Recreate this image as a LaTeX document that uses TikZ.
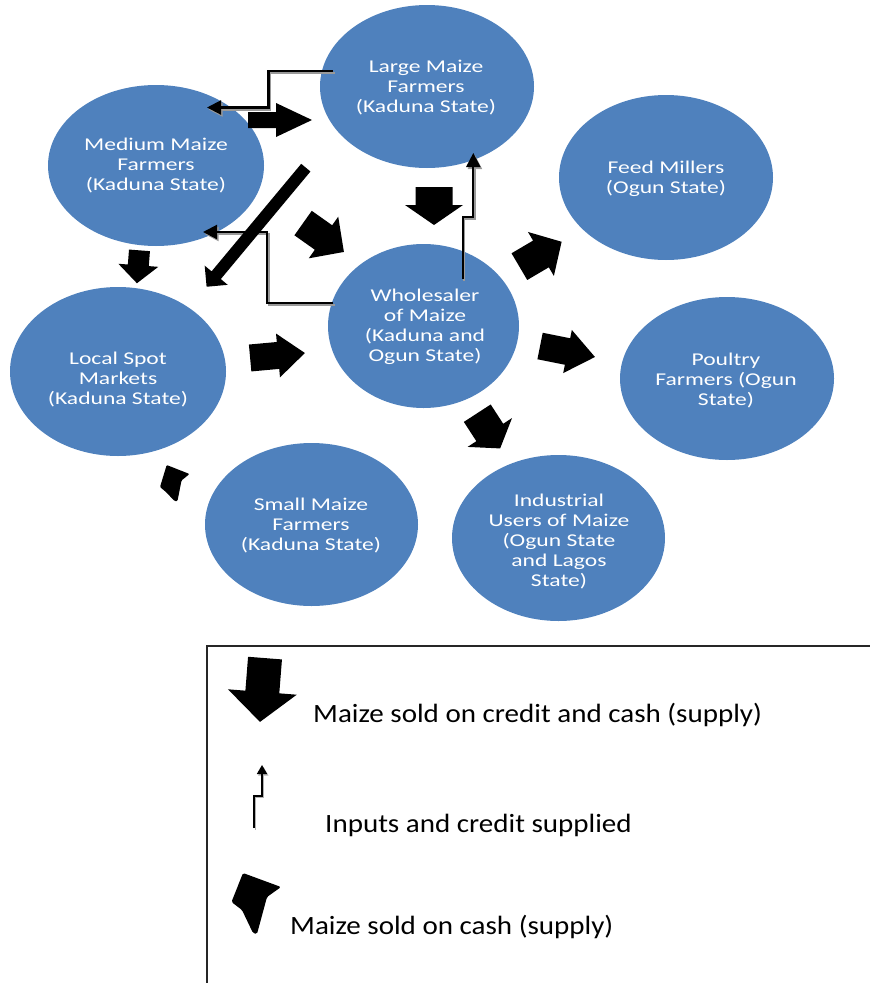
\documentclass[tikz,border=0pt]{standalone}
\usepackage{fontspec}
\setmainfont{Carlito}
\newfontfamily\efont[FakeStretch=1.31]{Carlito}
\newfontfamily\lfont[FakeStretch=1.1]{Carlito}
\usetikzlibrary{shapes.geometric,arrows.meta}
\definecolor{ellblue}{HTML}{4F81BD}
% name, x, y, angle, length, body width, head width, head length
\newcommand\blockarrow[8]{%
  \fill[blk, shift={(#2,#3)}, rotate=#4]
    (-#5/2,-#6/2) -- ({#5/2-#8},-#6/2) -- ({#5/2-#8},-#7/2) -- (#5/2,0) coordinate (#1)
    -- ({#5/2-#8},#7/2) -- ({#5/2-#8},#6/2) -- (-#5/2,#6/2) -- cycle;}
\begin{document}
\begin{tikzpicture}[x=1pt,y=-1pt,
  ell/.style={ellipse, fill=ellblue, draw=none, inner sep=0pt},
  etxt/.style={text=white, align=center, inner sep=0pt, font=\efont\fontsize{18}{20}\selectfont},
  ltxt/.style={anchor=base west, inner sep=0pt, font=\lfont\fontsize{26.4}{30}\selectfont},
  conn/.style={line width=2.1pt, -{Triangle[length=14pt,width=14pt]}},
  shad/.style={conn, draw=black!40, transform canvas={shift={(1.6,2)}}},
  lconn/.style={line width=1.6pt, -{Triangle[length=9pt,width=10pt]}},
  lshad/.style={lconn, draw=black!30, transform canvas={shift={(1.3,1.6)}}},
  blk/.style={fill=black}]
\useasboundingbox (0,0) rectangle (870,983);

% ellipses
\node[ell, minimum width=214pt, minimum height=163pt] (lg) at (427,86.5) {};
\node[ell, minimum width=216pt, minimum height=161pt] (md) at (156,165.5) {};
\node[ell, minimum width=214pt, minimum height=165pt] (fm) at (666,177.5) {};
\node[ell, minimum width=191pt, minimum height=164pt] (wh) at (423.5,326) {};
\node[ell, minimum width=216pt, minimum height=169pt] (ls) at (118,371.5) {};
\node[ell, minimum width=214pt, minimum height=163pt] (pf) at (727,378.5) {};
\node[ell, minimum width=213pt, minimum height=163pt] (sm) at (311.5,524.5) {};
\node[ell, minimum width=213pt, minimum height=166pt] (iu) at (558.5,538) {};

% ellipse texts
\node[etxt] (lgt) at (426,88) {Large Maize\\Farmers\\(Kaduna State)};
\node[etxt] (mdt) at (156,165) {Medium Maize\\Farmers\\(Kaduna State)};
\node[etxt] (fmt) at (666,179) {Feed Millers\\(Ogun State)};
\node[etxt] (wht) at (425,327) {Wholesaler\\of Maize\\(Kaduna and\\Ogun State)};
\node[etxt] (lst) at (118,379) {Local Spot\\Markets\\(Kaduna State)};
\node[etxt] (pft) at (726,380) {Poultry\\Farmers (Ogun\\State)};
\node[etxt] (smt) at (311,525) {Small Maize\\Farmers\\(Kaduna State)};
\node[etxt] (iut) at (559,541) {Industrial\\Users of Maize\\(Ogun State\\and Lagos\\State)};

% elbow connectors (inputs and credit)
\coordinate (e1a) at (333,71);   \coordinate (e1b) at (207,107.5);
\coordinate (e2a) at (333,303);  \coordinate (e2b) at (203,232);
\coordinate (e3a) at (462.7,279); \coordinate (e3b) at (473.3,153);
\draw[shad] (e1a) -| (268.5,107.5) -- (e1b);
\draw[conn] (e1a) -| (268.5,107.5) -- (e1b);
\draw[shad] (e2a) -| (267,232) -- (e2b);
\draw[conn] (e2a) -| (267,232) -- (e2b);
\draw[shad] (e3a) |- (473.3,217) -- (e3b);
\draw[conn] (e3a) |- (473.3,217) -- (e3b);

% block arrows (supply)
\blockarrow{a1}{280}{120}{0}{64}{16}{34}{36}
\blockarrow{a2}{256.2}{227.2}{-129.8}{155}{12}{30}{15}
\blockarrow{a3}{323.5}{237.5}{-35.3}{50}{30}{51}{25}
\blockarrow{a4}{434}{206}{-90}{38}{37}{58}{20}
\blockarrow{a8}{138.2}{266.8}{-94.4}{33}{21}{40}{18}
\blockarrow{a9}{277.5}{355.5}{5.2}{55}{27}{44}{27}
\blockarrow{a10}{540.5}{254.2}{30.5}{49}{31}{51}{24}
\blockarrow{a11}{567.5}{351.5}{-11.3}{56}{27}{44}{28}
\blockarrow{a12}{488.7}{430.8}{-57}{42}{32}{53}{19}

% cash arrow (small -> local)
\fill[blk, rounded corners=1pt] (166.7,465) -- (189.5,474) -- (181.5,480.5) -- (177.5,501)
  -- (174.5,501) -- (166,492) -- (160,487) -- cycle;

% legend
\draw[line width=1.3pt, draw=black!85] (207,983) -- (207,646) -- (870,646);
\blockarrow{lg1}{262.5}{690}{-94.5}{64}{34}{69}{30}
\node[ltxt] (lt1) at (313,722) {Maize sold on credit and cash (supply)};
\coordinate (le1) at (254,828); \coordinate (le2) at (262,765);
\draw[lshad] (le1) |- (262,796) -- (le2);
\draw[lconn] (le1) |- (262,796) -- (le2);
\node[ltxt] (lt2) at (325,832) {Inputs and credit supplied};
\fill[blk, rounded corners=1.5pt] (243,873) -- (281,887) -- (267,897) -- (257,934)
  -- (253,933) -- (242,910) -- (231.5,902) -- cycle;
\node[ltxt] (lt3) at (290,934) {Maize sold on cash (supply)};
\end{tikzpicture}
\end{document}
